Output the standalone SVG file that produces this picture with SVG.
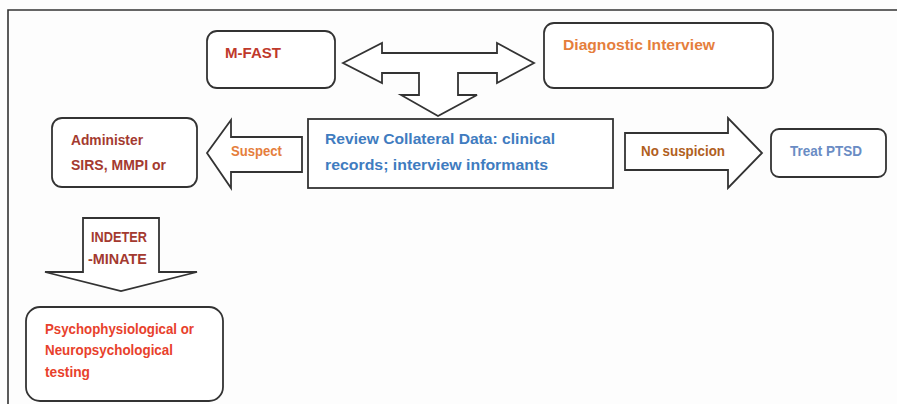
<svg xmlns="http://www.w3.org/2000/svg" width="897" height="404" viewBox="0 0 897 404">
<style>
.box{fill:#fff;stroke:#333;stroke-width:1.8}
.arrow{fill:#fff;stroke:#333;stroke-width:1.8;stroke-linejoin:miter}
text{font-family:"Liberation Sans",Arial,sans-serif;font-weight:bold;font-size:15.5px}
.dred{fill:#C0392B}
.orange{fill:#E57E3C}
.brown{fill:#A43A30}
.blue{fill:#3F7CC0}
.nosus{fill:#B0601E}
.lblue{fill:#6A8CC4}
.red{fill:#E8412C}
</style>
<rect x="0" y="0" width="897" height="404" fill="#fdfdfd"/>
<path d="M8,404 V10 H897" fill="none" stroke="#333" stroke-width="1.6"/>

<g id="connectors">
  <path class="arrow" d="M343,63 L382,43 L382,53 L497,53 L497,43 L534,63 L497,83 L497,73 L458,73 L458,95 L477,95 L438,116 L401,95 L419,95 L419,73 L382,73 L382,83 Z"/>
  <g id="suspect-arrow">
    <path class="arrow" d="M207,153 L231,120 L231,137 L302,137 L302,172 L231,172 L231,188 Z"/>
    <text class="orange" x="231" y="156" textLength="51" lengthAdjust="spacingAndGlyphs">Suspect</text>
  </g>
  <g id="nosuspicion-arrow">
    <path class="arrow" d="M625,133 L728,133 L728,118 L762,153 L728,188 L728,170 L625,170 Z"/>
    <text class="nosus" x="641" y="156" textLength="84" lengthAdjust="spacingAndGlyphs">No suspicion</text>
  </g>
  <g id="indeterminate-arrow">
    <path class="arrow" d="M83,218 L159,218 L159,272 L197,272 L121,291 L45,272 L83,272 Z"/>
    <text class="brown" x="91" y="242" textLength="56" lengthAdjust="spacingAndGlyphs">INDETER</text>
    <text class="brown" x="88" y="264" textLength="59" lengthAdjust="spacingAndGlyphs">-MINATE</text>
  </g>
</g>

<g id="mfast">
  <rect class="box" x="207" y="31" width="128" height="57" rx="10"/>
  <text class="dred" x="225" y="58" textLength="56" lengthAdjust="spacingAndGlyphs">M-FAST</text>
</g>

<g id="diagnostic">
  <rect class="box" x="544" y="23" width="229" height="65" rx="10"/>
  <text class="orange" x="563" y="50" textLength="152" lengthAdjust="spacingAndGlyphs">Diagnostic Interview</text>
</g>

<g id="administer">
  <rect class="box" x="52" y="118" width="145" height="69" rx="10"/>
  <text class="brown" x="71" y="145" textLength="72" lengthAdjust="spacingAndGlyphs">Administer</text>
  <text class="brown" x="71" y="170" textLength="95" lengthAdjust="spacingAndGlyphs">SIRS, MMPI or</text>
</g>

<g id="review">
  <rect class="box" x="308" y="119" width="305" height="69"/>
  <text class="blue" x="325" y="144" textLength="230" lengthAdjust="spacingAndGlyphs">Review Collateral Data: clinical</text>
  <text class="blue" x="325" y="170" textLength="223" lengthAdjust="spacingAndGlyphs">records; interview informants</text>
</g>

<g id="treat">
  <rect class="box" x="771" y="129" width="115" height="48" rx="8"/>
  <text class="lblue" x="790" y="156" textLength="72" lengthAdjust="spacingAndGlyphs">Treat PTSD</text>
</g>

<g id="testing">
  <rect class="box" x="26" y="307" width="197" height="94" rx="14"/>
  <text class="red" x="45" y="334" textLength="149" lengthAdjust="spacingAndGlyphs">Psychophysiological or</text>
  <text class="red" x="45" y="355" textLength="128" lengthAdjust="spacingAndGlyphs">Neuropsychological</text>
  <text class="red" x="45" y="377" textLength="45" lengthAdjust="spacingAndGlyphs">testing</text>
</g>
</svg>
